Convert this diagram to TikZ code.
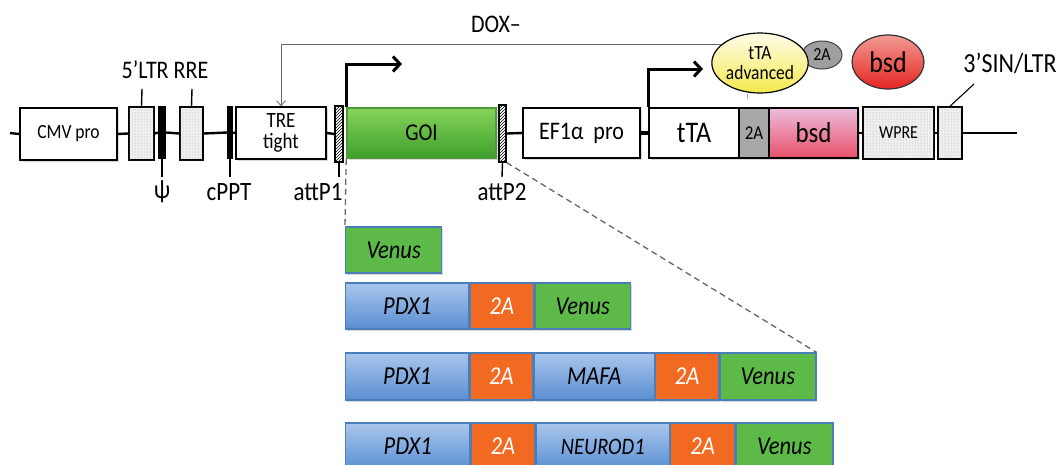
\documentclass[tikz,border=0pt]{standalone}
\usepackage{fontspec}
\usepackage{graphicx}
\setmainfont{Carlito}
\usetikzlibrary{patterns,shadows,arrows.meta,shapes.geometric}

% slightly tall lettering
\newcommand\tx[1]{\scalebox{1}[1.15]{#1}}
\newcommand\fs[1]{\fontsize{#1}{#1}\selectfont}

\definecolor{goiTop}{HTML}{86D35A}
\definecolor{goiBot}{HTML}{3EA02C}
\definecolor{goiEdge}{HTML}{4E9A38}
\definecolor{bsdTop}{HTML}{EDBCDD}
\definecolor{bsdBot}{HTML}{E8506A}
\definecolor{advTop}{HTML}{FFFDEB}
\definecolor{advBot}{HTML}{F3E94C}
\definecolor{redTop}{HTML}{F39A94}
\definecolor{redBot}{HTML}{E42421}
\definecolor{twoGrey}{HTML}{A8A8A8}
\definecolor{blueTop}{HTML}{A9C6EC}
\definecolor{blueBot}{HTML}{5A8ED2}
\definecolor{geneEdge}{HTML}{4A7EBB}
\definecolor{orng}{HTML}{F26A22}
\definecolor{vgreen}{HTML}{5DBA48}

\tikzset{
  backbone/.style={line width=2.4pt},
  shade/.style={drop shadow={shadow xshift=1.5pt, shadow yshift=-1.5pt, opacity=0.3, fill=gray}},
  box/.style={draw, line width=1.6pt, inner sep=0pt, minimum height=50pt, align=center,
              fill=white, shade, font=\fs{17.5}},
  stip/.style={draw, line width=1.6pt, inner sep=0pt, minimum height=53pt, fill=gray!12,
               postaction={pattern=dots, pattern color=gray!75}},
  hatch/.style={draw, line width=1.2pt, inner sep=0pt, pattern=north east lines},
  bar/.style={fill=black, inner sep=0pt, minimum height=53pt},
  tick/.style={line width=1.4pt},
  lbl/.style={font=\fs{23}, inner sep=0pt},
  prom/.style={line width=3pt, -{Straight Barb[length=7pt,width=15pt]}},
  gene/.style={draw=geneEdge, line width=1.3pt, inner sep=0pt, minimum height=46pt,
               anchor=west, shade, font=\fs{22.5}\itshape},
  bluegene/.style={gene, top color=blueTop, bottom color=blueBot},
  twoa/.style={gene, fill=orng, text=white},
  venus/.style={gene, fill=vgreen},
  zoomline/.style={dashed, dash pattern=on 6pt off 4pt, line width=1.3pt, gray!80!black}
}

\begin{document}
\begin{tikzpicture}[x=1pt,y=-1pt]
\useasboundingbox (0,0) rectangle (1062,464);

% ---------- vector elements ----------
\coordinate (start) at (10,133);
\coordinate (finish) at (1017,133);
\node[box, minimum width=97pt, minimum height=52pt] (cmv) at (68.5,134) {\tx{CMV pro}};
\node[stip, minimum width=25pt] (ltr5) at (141.5,133.5) {};
\node[bar, minimum width=8pt] (psi) at (162,132.5) {};
\node[stip, minimum width=23pt] (rre) at (191.5,133.5) {};
\node[bar, minimum width=6pt] (cppt) at (230,132.5) {};
\node[box, minimum width=90pt, minimum height=52pt,
      font=\fontsize{19}{21.5}\selectfont] (tre) at (281,133) {\tx{TRE}\\\tx{tight}};
\node[hatch, minimum width=8pt, minimum height=56pt] (attp1) at (339,134) {};
\node[box, draw=goiEdge, top color=goiTop, bottom color=goiBot, minimum width=149pt,
      font=\fs{21}] (goi) at (421.5,133) {\tx{GOI}};
\node[hatch, minimum width=7pt, minimum height=57pt] (attp2) at (502.5,133.5) {};
\node[box, minimum width=117pt, font=\fs{22}] (ef1) at (581.5,133) {\tx{EF1α\ \ pro}};
\node[box, minimum width=90pt, font=\fs{26}] (tta) at (694,133) {\tx{tTA}};
\node[box, fill=twoGrey, minimum width=30pt, font=\fs{17}] (t2a) at (754,133) {\tx{2A}};
\node[box, top color=bsdTop, bottom color=bsdBot, minimum width=89pt,
      font=\fs{25}] (bsdbox) at (813.5,133) {\tx{bsd}};
\node[stip, minimum width=71pt, minimum height=52pt, font=\fs{16}] (wpre) at (898.5,133) {\tx{WPRE}};
\node[stip, minimum width=24pt, minimum height=52pt] (sin3) at (950,133) {};

% backbone segments between elements
\draw[backbone] (start) -- (cmv.west);
\draw[backbone] (cmv.east) -- (ltr5.west);
\draw[backbone] (ltr5.east) -- (psi.west);
\draw[backbone] (psi.east) -- (rre.west);
\draw[backbone] (rre.east) -- (cppt.west);
\draw[backbone] (cppt.east) -- (tre.west);
\draw[backbone] (tre.east) -- (attp1.west);
\draw[backbone] (attp2.east) -- (ef1.west);
\draw[line width=4.5pt] (ef1.east) -- (tta.west);
\draw[line width=1.6pt] (bsdbox.east) -- (wpre.west);
\draw[line width=1.6pt] (wpre.east) -- (sin3.west);
\draw[backbone] (sin3.east) -- (finish);

% element ticks and labels
\coordinate (ltrTop) at (142,89);
\coordinate (rreTop) at (192,89);
\coordinate (psiLow) at (162,177);
\coordinate (cpptLow) at (230,177);
\coordinate (att1Low) at (339,177);
\coordinate (att2Low) at (502,177);
\coordinate (sinTop) at (974,84);
\draw[tick] (ltr5.north) -- (ltrTop);
\draw[tick] (rre.north) -- (rreTop);
\draw[tick] (psi.south) -- (psiLow);
\draw[tick] (cppt.south) -- (cpptLow);
\draw[tick] (attp1.south) -- (att1Low);
\draw[tick] (attp2.south) -- (att2Low);
\draw[line width=1.1pt] (sin3.north) -- (sinTop);

\node[lbl, font=\fs{22}] (l5ltr) at (165,70) {\tx{5’LTR RRE}};
\node[lbl] (lpsi) at (162,192) {\tx{ψ}};
\node[lbl] (lcppt) at (229,192) {\tx{cPPT}};
\node[lbl] (latt1) at (318,192) {\tx{attP1}};
\node[lbl] (latt2) at (502,192) {\tx{attP2}};
\node[lbl, font=\fs{24}] (lsin) at (1010,63) {\tx{3’SIN/LTR}};
\node[lbl, font=\fs{22}] (ldox) at (496,24) {\tx{DOX–}};

% promoter arrows
\coordinate (tre1) at (402,64);
\coordinate (tre2) at (703,69);
\draw[prom] (goi.north west) -- (goi.north west |- tre1) -- (tre1);
\draw[prom] (tta.north west) -- (tta.north west |- tre2) -- (tre2);

% proteins
\node[ellipse, draw=gray!50!black, line width=1pt, fill=gray!75, minimum width=40pt,
      minimum height=28pt, inner sep=0pt, font=\fs{16}] (p2a) at (822,55) {\tx{2A}};
\node[ellipse, draw, line width=1.2pt, top color=advTop, bottom color=advBot, minimum width=96pt,
      minimum height=60pt, inner sep=0pt, align=center,
      font=\fontsize{17.5}{20}\selectfont] (adv) at (760,63) {\tx{tTA}\\\tx{advanced}};
\node[ellipse, draw=black!80, line width=1.2pt, top color=redTop, bottom color=redBot, minimum width=72pt,
      minimum height=54pt, inner sep=0pt, font=\fs{26}] (pbsd) at (888,62) {\tx{bsd}};

\coordinate (advLow) at (747,99);
\draw[gray!70, line width=0.8pt] (advLow) -- (advLow |- adv.south);

% tTA acts on TRE when DOX is absent
\draw[gray!80!black, line width=0.8pt, -{Straight Barb[length=5pt,width=9pt]}]
  (adv.155) -- (adv.155 -| tre.north) -- (tre.north);

% ---------- gene of interest cassettes ----------
\node[venus, minimum width=96pt] (v1) at (345,250) {\tx{Venus}};

\node[bluegene, minimum width=123pt] (r2a) at (345,306) {\tx{PDX1}};
\node[twoa, minimum width=64pt] (r2b) at (r2a.east) {\tx{2A}};
\node[venus, minimum width=95pt] (r2c) at (r2b.east) {\tx{Venus}};

\node[bluegene, minimum width=123pt, minimum height=47pt] (r3a) at (345,376.5) {\tx{PDX1}};
\node[twoa, minimum width=63pt, minimum height=47pt] (r3b) at (r3a.east) {\tx{2A}};
\node[bluegene, minimum width=120pt, minimum height=47pt] (r3c) at (r3b.east) {\tx{MAFA}};
\node[twoa, minimum width=63pt, minimum height=47pt] (r3d) at (r3c.east) {\tx{2A}};
\node[venus, minimum width=96pt, minimum height=47pt] (r3e) at (r3d.east) {\tx{Venus}};

\node[bluegene, minimum width=124pt, minimum height=47pt] (r4a) at (345,446.5) {\tx{PDX1}};
\node[twoa, minimum width=64pt, minimum height=47pt] (r4b) at (r4a.east) {\tx{2A}};
\node[bluegene, minimum width=133pt, minimum height=47pt,
      font=\fs{20.5}\itshape] (r4c) at (r4b.east) {\tx{NEUROD1}};
\node[twoa, minimum width=64pt, minimum height=47pt] (r4d) at (r4c.east) {\tx{2A}};
\node[venus, minimum width=97pt, minimum height=47pt] (r4e) at (r4d.east) {\tx{Venus}};

% zoom lines from the GOI site to the cassettes
\draw[zoomline] (goi.south west) -- (v1.north west);
\draw[zoomline] (attp2.south east) -- (r3e.north east);
\end{tikzpicture}
\end{document}
